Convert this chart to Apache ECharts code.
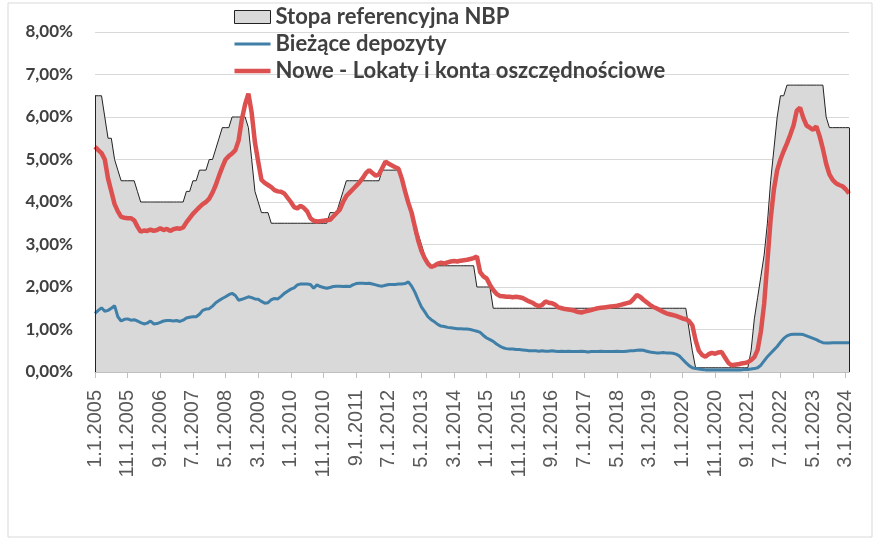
<!DOCTYPE html>
<html>
<head>
<meta charset="utf-8">
<script src="https://cdn.jsdelivr.net/npm/echarts@6/dist/echarts.min.js"></script>
<style>
  html, body { margin: 0; padding: 0; background: #fff; }
  #main { width: 880px; height: 540px; }
</style>
</head>
<body>
<div id="main"></div>
<script>
// miesiące od 1.2005 do 4.2024
var firstYear = 2005;
var monthCount = 232;

// Stopa referencyjna NBP (%), rok po roku
var nbpRate = [
  6.5, 6.5, 6.5, 6.0, 5.5, 5.5, 5.0, 4.75, 4.5, 4.5, 4.5, 4.5,
  4.5, 4.25, 4.0, 4.0, 4.0, 4.0, 4.0, 4.0, 4.0, 4.0, 4.0, 4.0,
  4.0, 4.0, 4.0, 4.0, 4.25, 4.25, 4.5, 4.5, 4.75, 4.75, 4.75, 5.0,
  5.0, 5.25, 5.5, 5.75, 5.75, 5.75, 6.0, 6.0, 6.0, 6.0, 6.0, 5.75,
  5.0, 4.25, 4.0, 3.75, 3.75, 3.75, 3.5, 3.5, 3.5, 3.5, 3.5, 3.5,
  3.5, 3.5, 3.5, 3.5, 3.5, 3.5, 3.5, 3.5, 3.5, 3.5, 3.5, 3.5,
  3.75, 3.75, 3.75, 4.0, 4.25, 4.5, 4.5, 4.5, 4.5, 4.5, 4.5, 4.5,
  4.5, 4.5, 4.5, 4.5, 4.75, 4.75, 4.75, 4.75, 4.75, 4.75, 4.5, 4.25,
  4.0, 3.75, 3.25, 3.25, 3.0, 2.75, 2.5, 2.5, 2.5, 2.5, 2.5, 2.5,
  2.5, 2.5, 2.5, 2.5, 2.5, 2.5, 2.5, 2.5, 2.5, 2.0, 2.0, 2.0,
  2.0, 2.0, 1.5, 1.5, 1.5, 1.5, 1.5, 1.5, 1.5, 1.5, 1.5, 1.5,
  1.5, 1.5, 1.5, 1.5, 1.5, 1.5, 1.5, 1.5, 1.5, 1.5, 1.5, 1.5,
  1.5, 1.5, 1.5, 1.5, 1.5, 1.5, 1.5, 1.5, 1.5, 1.5, 1.5, 1.5,
  1.5, 1.5, 1.5, 1.5, 1.5, 1.5, 1.5, 1.5, 1.5, 1.5, 1.5, 1.5,
  1.5, 1.5, 1.5, 1.5, 1.5, 1.5, 1.5, 1.5, 1.5, 1.5, 1.5, 1.5,
  1.5, 1.5, 1.0, 0.5, 0.1, 0.1, 0.1, 0.1, 0.1, 0.1, 0.1, 0.1,
  0.1, 0.1, 0.1, 0.1, 0.1, 0.1, 0.1, 0.1, 0.1, 0.5, 1.25, 1.75,
  2.25, 2.75, 3.5, 4.5, 5.25, 6.0, 6.5, 6.5, 6.75, 6.75, 6.75, 6.75,
  6.75, 6.75, 6.75, 6.75, 6.75, 6.75, 6.75, 6.75, 6.0, 5.75, 5.75, 5.75,
  5.75, 5.75, 5.75, 5.75
];

// Bieżące depozyty (%)
var currentDeposits = [
  1.38, 1.45, 1.51, 1.43, 1.45, 1.50, 1.56, 1.30, 1.20, 1.24, 1.25, 1.22,
  1.23, 1.20, 1.16, 1.13, 1.15, 1.20, 1.13, 1.14, 1.17, 1.20, 1.21, 1.21,
  1.20, 1.21, 1.19, 1.22, 1.27, 1.29, 1.30, 1.30, 1.36, 1.45, 1.48, 1.49,
  1.55, 1.63, 1.68, 1.73, 1.77, 1.82, 1.85, 1.80, 1.69, 1.71, 1.74, 1.77,
  1.75, 1.72, 1.71, 1.66, 1.62, 1.63, 1.70, 1.73, 1.72, 1.78, 1.85, 1.90,
  1.95, 1.98, 2.05, 2.07, 2.07, 2.07, 2.06, 1.97, 2.05, 2.01, 1.99, 1.97,
  1.99, 2.01, 2.02, 2.02, 2.01, 2.02, 2.01, 2.05, 2.08, 2.09, 2.09, 2.08,
  2.09, 2.07, 2.05, 2.03, 2.02, 2.04, 2.06, 2.06, 2.06, 2.07, 2.07, 2.08,
  2.12, 2.02, 1.88, 1.70, 1.53, 1.42, 1.30, 1.23, 1.18, 1.12, 1.08, 1.07,
  1.05, 1.04, 1.03, 1.02, 1.02, 1.01, 1.01, 1.00, 0.98, 0.96, 0.93, 0.86,
  0.80, 0.76, 0.72, 0.66, 0.61, 0.57, 0.55, 0.54, 0.54, 0.53, 0.53, 0.52,
  0.51, 0.50, 0.50, 0.50, 0.49, 0.50, 0.49, 0.49, 0.50, 0.49, 0.48, 0.49,
  0.48, 0.49, 0.48, 0.48, 0.48, 0.49, 0.48, 0.47, 0.48, 0.48, 0.48, 0.49,
  0.48, 0.48, 0.48, 0.48, 0.49, 0.48, 0.48, 0.49, 0.50, 0.50, 0.51, 0.52,
  0.51, 0.49, 0.47, 0.46, 0.45, 0.45, 0.46, 0.45, 0.45, 0.44, 0.42, 0.38,
  0.30, 0.22, 0.15, 0.10, 0.08, 0.07, 0.06, 0.05, 0.05, 0.05, 0.05, 0.05,
  0.05, 0.05, 0.05, 0.05, 0.05, 0.05, 0.05, 0.06, 0.06, 0.07, 0.08, 0.10,
  0.16, 0.26, 0.36, 0.44, 0.52, 0.60, 0.70, 0.79, 0.85, 0.88, 0.89, 0.89,
  0.89, 0.88, 0.85, 0.82, 0.79, 0.76, 0.72, 0.69, 0.68, 0.68, 0.69, 0.69,
  0.69, 0.69, 0.69, 0.69
];

// Nowe - Lokaty i konta oszczędnościowe (%)
var newDeposits = [
  5.30, 5.22, 5.15, 5.00, 4.55, 4.25, 3.95, 3.78, 3.65, 3.63, 3.62, 3.62,
  3.57, 3.42, 3.30, 3.33, 3.32, 3.35, 3.32, 3.34, 3.38, 3.34, 3.37, 3.32,
  3.36, 3.38, 3.37, 3.40, 3.52, 3.62, 3.72, 3.80, 3.88, 3.95, 4.00, 4.08,
  4.22, 4.40, 4.62, 4.82, 5.00, 5.08, 5.14, 5.22, 5.45, 5.95, 6.30, 6.55,
  6.10, 5.40, 4.95, 4.52, 4.45, 4.40, 4.35, 4.28, 4.25, 4.24, 4.20, 4.10,
  4.00, 3.88, 3.85, 3.91, 3.86, 3.78, 3.62, 3.56, 3.54, 3.55, 3.56, 3.57,
  3.58, 3.66, 3.74, 3.82, 4.00, 4.14, 4.22, 4.30, 4.38, 4.46, 4.56, 4.68,
  4.75, 4.68, 4.62, 4.65, 4.80, 4.95, 4.90, 4.86, 4.82, 4.78, 4.55, 4.25,
  3.98, 3.75, 3.42, 3.10, 2.85, 2.68, 2.55, 2.47, 2.50, 2.55, 2.57, 2.55,
  2.58, 2.60, 2.61, 2.60, 2.62, 2.63, 2.64, 2.66, 2.68, 2.72, 2.35, 2.25,
  2.20, 2.05, 1.93, 1.84, 1.79, 1.78, 1.77, 1.77, 1.76, 1.77, 1.76, 1.74,
  1.70, 1.66, 1.63, 1.58, 1.55, 1.58, 1.66, 1.63, 1.62, 1.58, 1.52, 1.50,
  1.48, 1.47, 1.46, 1.44, 1.41, 1.40, 1.42, 1.44, 1.46, 1.48, 1.50, 1.51,
  1.52, 1.53, 1.54, 1.55, 1.56, 1.58, 1.60, 1.62, 1.64, 1.72, 1.81, 1.77,
  1.70, 1.64, 1.58, 1.53, 1.50, 1.46, 1.42, 1.38, 1.36, 1.34, 1.32, 1.29,
  1.26, 1.24, 1.20, 1.10, 0.75, 0.50, 0.40, 0.36, 0.42, 0.45, 0.43, 0.46,
  0.47, 0.34, 0.22, 0.16, 0.17, 0.18, 0.20, 0.21, 0.23, 0.28, 0.35, 0.52,
  0.95, 1.60, 2.60, 3.60, 4.30, 4.75, 5.00, 5.20, 5.38, 5.58, 5.80, 6.15,
  6.22, 5.98, 5.80, 5.75, 5.70, 5.78, 5.55, 5.25, 4.90, 4.65, 4.52, 4.44,
  4.40, 4.37, 4.30, 4.20
];

var seriesNames = ['Stopa referencyjna NBP', 'Bieżące depozyty', 'Nowe - Lokaty i konta oszczędnościowe'];

var categories = [];
for (var i = 0; i < monthCount; i++) {
  categories.push((i % 12 + 1) + '.1.' + (firstYear + Math.floor(i / 12)));
}

window.onload = function () {
  var myChart = echarts.init(document.getElementById('main'));
  var lastIdx = categories.length - 1;

  var option = {
    backgroundColor: '#fff',
    animation: false,
    graphic: [{
      type: 'rect',
      shape: { x: 8, y: 3, width: 864, height: 534 },
      style: { fill: 'none', stroke: '#d9d9d9', lineWidth: 1 }
    }],
    legend: {
      orient: 'vertical',
      left: 229,
      top: 1,
      itemWidth: 36,
      itemHeight: 13,
      itemGap: 5,
      textStyle: { fontFamily: 'Lato', fontWeight: 'bold', fontSize: 22, color: '#404040' },
      data: [
        { name: seriesNames[0], icon: 'rect', itemStyle: { color: '#d9d9d9', borderColor: '#222', borderWidth: 1 } },
        { name: seriesNames[1], icon: 'path://M0,0H40V3.5H0Z', itemStyle: { color: '#3f7fa8' } },
        { name: seriesNames[2], icon: 'path://M0,0H40V5H0Z', itemStyle: { color: '#dc5150' } }
      ]
    },
    grid: { left: 95, right: 31, top: 32, bottom: 168 },
    xAxis: {
      type: 'category',
      data: categories,
      boundaryGap: false,
      axisLine: { lineStyle: { color: '#bfbfbf' } },
      axisTick: { interval: 9, length: 6, lineStyle: { color: '#bfbfbf' } },
      axisLabel: {
        interval: 9,
        rotate: 90,
        margin: 18,
        fontFamily: 'Liberation Sans',
        fontSize: 20,
        color: '#595959'
      },
      splitLine: { show: false }
    },
    yAxis: {
      type: 'value',
      min: 0,
      max: 8,
      interval: 1,
      axisLine: { show: false },
      axisTick: { show: false },
      axisLabel: {
        margin: 22,
        fontFamily: 'Lato',
        fontWeight: 'bold',
        fontSize: 17,
        color: '#404040',
        formatter: function (v) { return v.toFixed(2).replace('.', ',') + '%'; }
      },
      splitLine: { lineStyle: { color: '#d9d9d9' } }
    },
    series: [
      {
        name: seriesNames[0],
        type: 'line',
        data: nbpRate,
        symbol: 'none',
        lineStyle: { color: '#222', width: 1 },
        itemStyle: { color: '#d9d9d9' },
        areaStyle: { color: '#d9d9d9', opacity: 1 },
        z: 1,
        markLine: {
          silent: true,
          symbol: 'none',
          label: { show: false },
          lineStyle: { color: '#222', width: 1, type: 'solid' },
          data: [
            [{ coord: [categories[0], 0] }, { coord: [categories[0], nbpRate[0]] }],
            [{ coord: [categories[lastIdx], 0] }, { coord: [categories[lastIdx], nbpRate[lastIdx]] }]
          ]
        }
      },
      {
        name: seriesNames[1],
        type: 'line',
        data: currentDeposits,
        symbol: 'none',
        lineStyle: { color: '#3f7fa8', width: 3 },
        itemStyle: { color: '#3f7fa8' },
        z: 3
      },
      {
        name: seriesNames[2],
        type: 'line',
        data: newDeposits,
        symbol: 'none',
        lineStyle: { color: '#dc5150', width: 4.5 },
        itemStyle: { color: '#dc5150' },
        z: 4
      }
    ]
  };

  myChart.setOption(option);
};
</script>
</body>
</html>
